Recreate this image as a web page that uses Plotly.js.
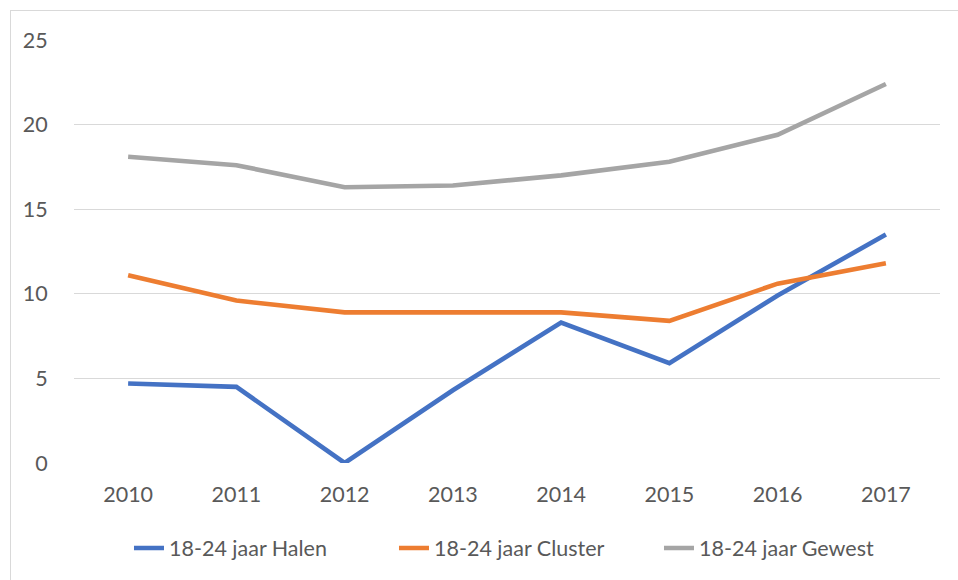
<!DOCTYPE html>
<html>
<head>
<meta charset="utf-8">
<script src="https://cdn.plot.ly/plotly-3.0.1.min.js"></script>
<style>
html,body{margin:0;padding:0;background:#fff;width:958px;height:580px;overflow:hidden;}
#frame{position:absolute;left:10px;top:10px;width:1000px;height:640px;border:1.5px solid #d9d9d9;box-sizing:border-box;}
#chart{position:absolute;left:0;top:0;width:958px;height:580px;}
</style>
</head>
<body>
<div id="frame"></div>
<div id="chart"></div>
<script>
const years = ['2010','2011','2012','2013','2014','2015','2016','2017'];
const halen = [4.7, 4.5, 0, 4.3, 8.3, 5.9, 9.9, 13.5];
const cluster = [11.1, 9.6, 8.9, 8.9, 8.9, 8.4, 10.6, 11.8];
const gewest = [18.1, 17.6, 16.3, 16.4, 17.0, 17.8, 19.4, 22.4];
const seriesNames = ['18-24 jaar Halen', '18-24 jaar Cluster', '18-24 jaar Gewest'];
const yTicks = [0, 5, 10, 15, 20, 25];

const colors = ['#4472C4', '#ED7D31', '#A5A5A5'];
const font = {family: 'Lato, "Open Sans", sans-serif', size: 21.5, color: '#595959'};

const traces = [halen, cluster, gewest].map((vals, i) => ({
  x: years, y: vals, name: seriesNames[i], type: 'scatter', mode: 'lines',
  line: {color: colors[i], width: 4.6}
}));

const layout = {
  width: 958, height: 580,
  margin: {l: 74, r: 18, t: 40, b: 117},
  paper_bgcolor: 'rgba(0,0,0,0)', plot_bgcolor: 'rgba(0,0,0,0)',
  font: font,
  showlegend: true,
  legend: {orientation: 'h', x: 0.0635, xanchor: 'left', y: -0.201, yanchor: 'middle',
           font: font, entrywidth: 220, traceorder: 'normal'},
  xaxis: {type: 'category', showgrid: false, zeroline: false, showline: false,
          ticks: 'outside', ticklen: 12, tickcolor: 'rgba(0,0,0,0)', tickfont: font,
          range: [-0.5, 7.5], fixedrange: true},
  yaxis: {range: [0, 25], tickvals: yTicks, showgrid: true, gridcolor: '#d9d9d9', gridwidth: 1.3,
          zeroline: false, showline: false, ticks: 'outside', ticklen: 21,
          tickcolor: 'rgba(0,0,0,0)', tickfont: font, fixedrange: true}
};

Plotly.newPlot('chart', traces, layout, {displayModeBar: false, staticPlot: true});
</script>
</body>
</html>
